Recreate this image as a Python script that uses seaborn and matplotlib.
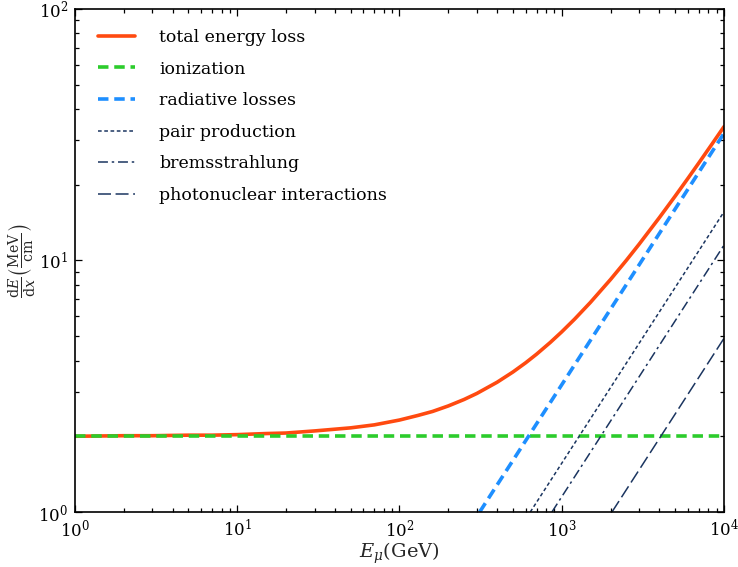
import matplotlib
matplotlib.use("Agg")
import matplotlib.pyplot as plt
import seaborn as sns
import pandas as pd
from matplotlib.ticker import LogLocator, NullFormatter

sns.set_theme(style="ticks")
plt.rcParams["font.family"] = ["DejaVu Serif"]
plt.rcParams["mathtext.fontset"] = "dejavuserif"

# Muon energy (GeV) and total stopping power (MeV/cm)
energy_total = [1, 2, 3, 5, 7, 10, 15, 20, 30, 50, 70, 100, 130, 160, 200,
                250, 300, 400, 500, 600, 700, 850, 1000, 1200, 1500, 2000,
                2500, 3000, 4000, 5000, 6000, 7000, 8500, 10000]
loss_total = [2.00, 2.01, 2.01, 2.02, 2.02, 2.03, 2.05, 2.06, 2.10, 2.16,
              2.22, 2.32, 2.42, 2.51, 2.64, 2.80, 2.96, 3.28, 3.60, 3.92,
              4.24, 4.72, 5.20, 5.84, 6.80, 8.40, 10.0, 11.6, 14.8, 18.0,
              21.2, 24.4, 29.2, 34.0]

# Individual contributions (end points over the plotted range)
energy_ion = [1, 10000]
loss_ion = [2.0, 2.0]
energy_rad = [312, 10000]
loss_rad = [1.0, 32.0]
energy_pair = [640, 10000]
loss_pair = [1.0, 15.6]
energy_brems = [870, 10000]
loss_brems = [1.0, 11.5]
energy_photo = [2040, 10000]
loss_photo = [1.0, 4.9]

fig = plt.figure(figsize=(7.38, 5.67), dpi=100)
ax = fig.add_axes([0.1016, 0.0970, 0.8794, 0.8875])

dark = "#1b3560"
series = [
    ("total energy loss", energy_total, loss_total, "#ff4a10", 2.6, None),
    ("ionization", energy_ion, loss_ion, "#2ccc2c", 2.6, (2.9, 1.6)),
    ("radiative losses", energy_rad, loss_rad, "#1e8fff", 2.6, (2.9, 1.6)),
    ("pair production", energy_pair, loss_pair, dark, 1.1, (2.4, 1.7)),
    ("bremsstrahlung", energy_brems, loss_brems, dark, 1.1, (6.5, 2.5, 1.6, 2.5)),
    ("photonuclear interactions", energy_photo, loss_photo, dark, 1.1, (8.5, 3.0)),
]

for label, xs, ys, color, lw, dash in series:
    df = pd.DataFrame({"E": xs, "dEdx": ys})
    kw = {}
    if dash is not None:
        kw["dashes"] = dash
    sns.lineplot(data=df, x="E", y="dEdx", ax=ax, color=color, linewidth=lw,
                 label=label, sort=False, **kw)

ax.set_xscale("log")
ax.set_yscale("log")
ax.set_xlim(1, 1e4)
ax.set_ylim(1, 1e2)

ax.xaxis.set_minor_locator(LogLocator(base=10, subs=range(2, 10), numticks=20))
ax.yaxis.set_minor_locator(LogLocator(base=10, subs=range(2, 10), numticks=20))
ax.xaxis.set_minor_formatter(NullFormatter())
ax.yaxis.set_minor_formatter(NullFormatter())

ax.tick_params(which="both", direction="in", top=True, right=True,
               colors="black", labelsize=12, width=0.9)
ax.tick_params(which="major", length=5)
ax.tick_params(which="minor", length=3)
ax.tick_params(axis="x", pad=5)
ax.tick_params(axis="y", pad=5)
for sp in ax.spines.values():
    sp.set_linewidth(1.2)
    sp.set_color("black")

ax.set_xlabel(r"$E_\mu$(GeV)", fontsize=14, labelpad=0)
ax.set_ylabel(r"$\frac{\mathrm{d}E}{\mathrm{d}x}\left(\frac{\mathrm{MeV}}{\mathrm{cm}}\right)$",
              fontsize=14.5, labelpad=0)

leg = ax.legend(loc="upper left", bbox_to_anchor=(0.036, 0.960), frameon=False,
                borderpad=0, borderaxespad=0, fontsize=12.5, handlelength=2.1,
                handletextpad=1.4, labelspacing=0.84)
for txt in leg.get_texts():
    txt.set_color("black")

fig.savefig("out.png", dpi=100, facecolor="white")
